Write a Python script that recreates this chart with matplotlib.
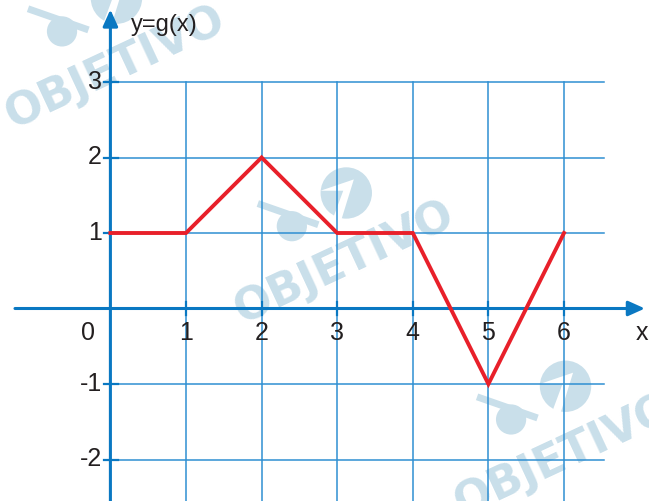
import matplotlib
matplotlib.use("Agg")
import matplotlib.pyplot as plt
from matplotlib.patches import Circle, Polygon

# Data
x_vals = [0, 1, 2, 3, 4, 5, 6]
g_vals = [1, 1, 2, 1, 1, -1, 1]
x_ticks = [1, 2, 3, 4, 5, 6]
y_ticks = [3, 2, 1, -1, -2]
fn_label = "y=g(x)"
watermark = "OBJETIVO"

plt.rcParams['font.family'] = ['Liberation Sans', 'DejaVu Sans']

fig = plt.figure(figsize=(6.49, 5.01), dpi=100)
ax = fig.add_axes([0, 0, 1, 1])
ax.set_xlim(-110.4 / 75.6, (649 - 110.4) / 75.6)
ax.set_ylim((308.5 - 501) / 75.5, 308.5 / 75.5)
ax.set_aspect('auto')
ax.axis('off')

wm_color = '#c9dfea'
for (wx, wy) in [(0.06, 3.19), (3.10, 0.61), (6.0, -1.95)]:
    ax.text(wx, wy, watermark, fontsize=32, fontweight='heavy', color=wm_color,
            family='DejaVu Sans', rotation=25, ha='center', va='center', zorder=0)
    # simple logo shapes above the text
    ax.add_patch(Circle((wx - 0.7, wy + 0.48), 0.2, color=wm_color, zorder=0, lw=0))
    ax.plot([wx - 1.15, wx - 0.35], [wy + 0.78, wy + 0.5], color=wm_color,
            lw=5, zorder=0, solid_capstyle='butt')
    ax.add_patch(Circle((wx + 0.02, wy + 0.92), 0.34, color=wm_color, zorder=0, lw=0))
    ax.add_patch(Polygon([[wx - 0.32, wy + 0.95], [wx + 0.12, wy + 1.1],
                          [wx - 0.05, wy + 0.55], [wx - 0.15, wy + 0.6],
                          [wx - 0.02, wy + 0.95]],
                         closed=True, color='white', zorder=0.5, lw=0))

grid_c = '#2f8fd2'
axis_c = '#0a78c2'
xmax_grid = (604 - 110.4) / 75.6
ybot = ax.get_ylim()[0]
for yv in y_ticks:
    ax.plot([0, xmax_grid], [yv, yv], color=grid_c, lw=1.1, zorder=1)
    ax.plot([-0.08, 0.1], [yv, yv], color=axis_c, lw=1.6, zorder=2)
for xv in x_ticks:
    ax.plot([xv, xv], [ybot, 3], color=grid_c, lw=1.1, zorder=1)
    ax.plot([xv, xv], [-0.08, 0.08], color=axis_c, lw=1.6, zorder=2)

# Axes with arrows
ax.annotate('', xy=(7.07, 0), xytext=(-1.262, 0),
            arrowprops=dict(arrowstyle='-|>,head_length=1.0,head_width=0.45',
                            color=axis_c, lw=2.2, shrinkA=0, shrinkB=0), zorder=3)
ax.annotate('', xy=(0, 3.96), xytext=(0, ybot),
            arrowprops=dict(arrowstyle='-|>,head_length=1.0,head_width=0.45',
                            color=axis_c, lw=2.2, shrinkA=0, shrinkB=0), zorder=3)

ax.plot(x_vals, g_vals, color='#e8202a', lw=2.8, zorder=4, solid_joinstyle='miter')

fs = 18
tc = '#231f20'
ax.text(-0.29, -0.32, '0', fontsize=fs, ha='center', va='center', color=tc)
for xv in x_ticks:
    ax.text(xv, -0.32, str(xv), fontsize=fs, ha='center', va='center', color=tc)
ax.text(7.03, -0.32, 'x', fontsize=fs, ha='center', va='center', color=tc)
for yv in y_ticks:
    ax.text(-0.11, yv, str(yv), fontsize=fs, ha='right', va='center', color=tc)
ax.text(0.27, 3.75, fn_label, fontsize=17, ha='left', va='center', color=tc)

fig.savefig('out.png', dpi=100)
